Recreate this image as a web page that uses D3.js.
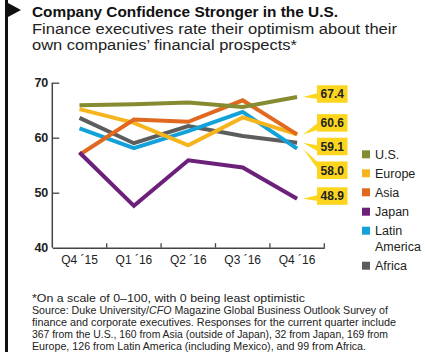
<!DOCTYPE html>
<html><head><meta charset="utf-8">
<script src="https://cdn.jsdelivr.net/npm/d3@7"></script>
<style>
html,body{margin:0;padding:0;background:#fff;}
svg{display:block;font-family:"Liberation Sans",Arial,sans-serif;}
</style></head>
<body><svg id="c" width="425" height="360"></svg>
<script>
const quarters = ["Q4 \u00B415","Q1 \u00B416","Q2 \u00B416","Q3 \u00B416","Q4 \u00B416"];
const regions = ["U.S.","Europe","Asia","Japan","Latin America","Africa"];
const usVals     = [65.9, 66.1, 66.4, 65.6, 67.4];
const europeVals = [65.2, 62.7, 58.6, 63.7, 60.6];
const asiaVals   = [56.9, 63.3, 62.9, 66.8, 60.6];
const japanVals  = [57.3, 47.6, 55.9, 54.6, 48.9];
const latamVals  = [61.7, 58.1, 61.2, 64.7, 58.0];
const africaVals = [63.6, 59.0, 62.1, 60.3, 59.1];
const yTicks = [40, 50, 60, 70];
const endLabels = ["67.4", "60.6", "59.1", "58.0", "48.9"];
const colors = {"U.S.":"#868b31","Europe":"#f6b51c","Asia":"#e0691f","Japan":"#6b2079","Latin America":"#12a2d9","Africa":"#5d5d5d"};
const series = {"U.S.":usVals,"Europe":europeVals,"Asia":asiaVals,"Japan":japanVals,"Latin America":latamVals,"Africa":africaVals};
const drawOrder = ["Africa","Latin America","Europe","Asia","U.S.","Japan"];

const svg = d3.select("#c");

// left bar + flag
svg.append("rect").attr("x",5).attr("y",0).attr("width",3).attr("height",352).attr("fill","#111");
svg.append("path").attr("d","M8,3 L21,10 L8,17 Z").attr("fill","#111");

svg.append("text").attr("x",32).attr("y",17).attr("font-size",15).attr("font-weight","bold")
  .attr("fill","#111").attr("textLength",306).attr("lengthAdjust","spacingAndGlyphs")
  .text("Company Confidence Stronger in the U.S.");
svg.append("text").attr("x",32).attr("y",33.5).attr("font-size",14).attr("fill","#222")
  .attr("textLength",365).attr("lengthAdjust","spacingAndGlyphs")
  .text("Finance executives rate their optimism about their");
svg.append("text").attr("x",32).attr("y",50).attr("font-size",14).attr("fill","#222")
  .attr("textLength",265).attr("lengthAdjust","spacingAndGlyphs")
  .text("own companies\u2019 financial prospects*");

// scales
const x = d3.scaleBand().domain(quarters).range([52.3, 324.3]);
const y = d3.scaleLinear().domain([40,70]).range([247.7, 82.7]);
const axisColor = "#444";

const gx = svg.append("g").attr("transform","translate(0,247.7)")
  .call(d3.axisBottom(x).tickSize(0).tickPadding(8));
gx.select(".domain").attr("stroke",axisColor).attr("stroke-width",1.5);
gx.selectAll("text").attr("font-size",12).attr("fill","#222").attr("font-family","'Liberation Sans',Arial,sans-serif");
gx.selectAll(".bt").data(quarters).enter().append("line")
  .attr("x1",d=>x(d)+x.bandwidth()).attr("x2",d=>x(d)+x.bandwidth())
  .attr("y1",0).attr("y2",-4.5).attr("stroke",axisColor).attr("stroke-width",1.3);

const gy = svg.append("g").attr("transform","translate(52.3,0)")
  .call(d3.axisRight(y).tickValues(yTicks).tickSize(7).tickFormat(d3.format("d")));
gy.select(".domain").attr("stroke",axisColor).attr("stroke-width",1.5).attr("d","M0,247.7V82.7");
gy.selectAll(".tick line").attr("stroke",axisColor).attr("stroke-width",1.3);
gy.selectAll(".tick").filter(d=>d===40).select("line").remove();
gy.selectAll("text").attr("font-size",12.5).attr("font-weight","bold").attr("fill","#222")
  .attr("text-anchor","end").attr("x",-4).attr("font-family","'Liberation Sans',Arial,sans-serif");

// lines
const line = d3.line().x((d,i)=>x(quarters[i])+x.bandwidth()/2).y(d=>y(d));
svg.append("g").selectAll("path").data(drawOrder).enter().append("path")
  .attr("d",r=>line(series[r])).attr("fill","none").attr("stroke",r=>colors[r])
  .attr("stroke-width",4).attr("stroke-linejoin","miter");

// end labels
const lastQ = quarters[quarters.length-1];
const labelTargets = [usVals[4], europeVals[4], africaVals[4], latamVals[4], japanVals[4]];
const boxOffsets = [-3, -11.5, 3.8, 21.5, -2.7]; // layout of callout boxes
const boxX = 317, boxW = 30.5, boxH = 17.5;
const tipX = x(lastQ) + x.bandwidth()/2 + 6;
const gl = svg.append("g");
endLabels.forEach((lab,i)=>{
  const ty = y(labelTargets[i]);
  const cy = ty + boxOffsets[i];
  const top = cy - boxH/2, bot = cy + boxH/2;
  let b1, b2;
  if (boxOffsets[i] < -6) { b1 = bot - 9; b2 = bot - 2; }
  else if (boxOffsets[i] > 6) { b1 = top + 1; b2 = top + 8; }
  else { b1 = cy - 1; b2 = cy + 5; }
  gl.append("path").attr("d",`M${tipX},${ty} L${boxX+1},${b1} L${boxX+1},${b2} Z`).attr("fill","#fbd51e");
  gl.append("rect").attr("x",boxX).attr("y",top).attr("width",boxW).attr("height",boxH).attr("fill","#fbd51e");
  gl.append("text").attr("x",boxX+boxW/2).attr("y",cy+4.3).attr("text-anchor","middle")
    .attr("font-size",12).attr("font-weight","bold").attr("fill","#222").text(lab);
});

// legend
const legY = [154.3, 173.3, 192.3, 211.7, 230.7, 265.7];
const lg = svg.append("g");
regions.forEach((r,i)=>{
  lg.append("rect").attr("x",362).attr("y",legY[i]-4).attr("width",8).attr("height",8).attr("fill",colors[r]);
  const words = r === "Latin America" ? ["Latin","America"] : [r];
  words.forEach((w,k)=>{
    lg.append("text").attr("x",375).attr("y",legY[i]+4.6+k*16).attr("font-size",12.5).attr("fill","#222").text(w);
  });
});

// footnote
const foot = [
  ["*On a scale of 0\u2013100, with 0 being least optimistic"],
  ["Source: Duke University/", "CFO", " Magazine Global Business Outlook Survey of"],
  ["finance and corporate executives. Responses for the current quarter include"],
  ["367 from the U.S., 160 from Asia (outside of Japan), 32 from Japan, 169 from"],
  ["Europe, 126 from Latin America (including Mexico), and 99 from Africa."]
];
const footWidths = [273, 356, 364, 356, 334];
const fg = svg.append("g");
foot.forEach((parts,i)=>{
  const t = fg.append("text").attr("x",32).attr("y",302 + i*12).attr("font-size",10.4).attr("fill","#222")
    .attr("textLength",footWidths[i]).attr("lengthAdjust","spacingAndGlyphs");
  parts.forEach((p,j)=>{
    t.append("tspan").attr("font-style", (i===1 && j===1) ? "italic" : null).text(p);
  });
});
</script></body></html>
